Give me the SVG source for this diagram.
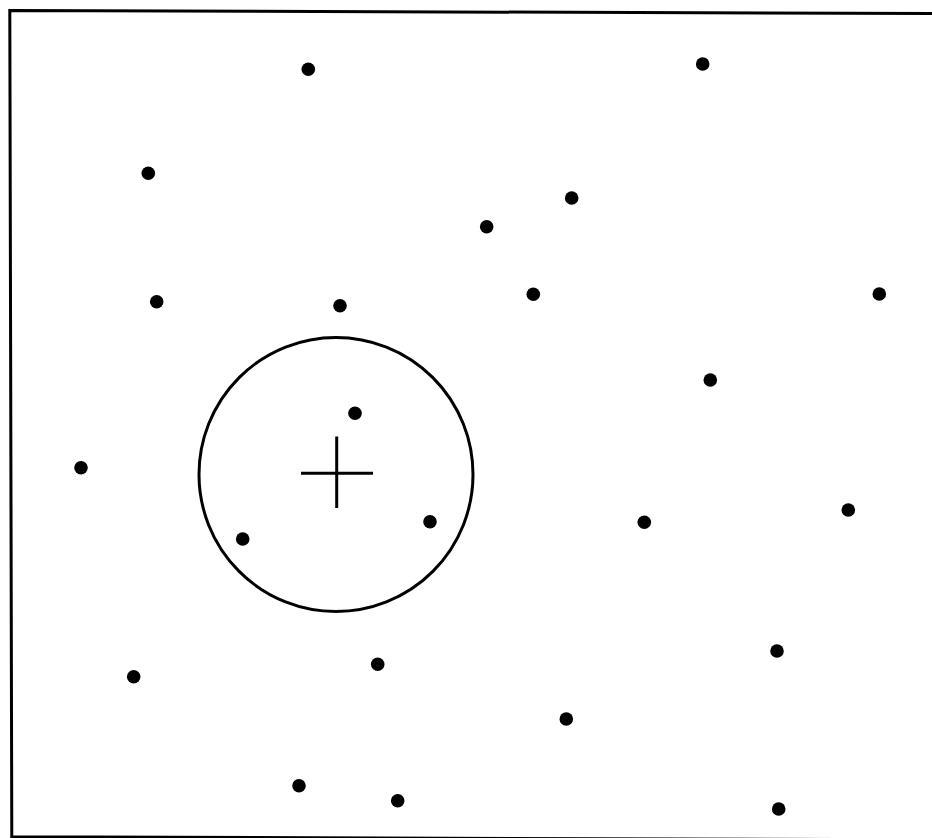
<svg xmlns="http://www.w3.org/2000/svg" width="932" height="838" viewBox="0 0 932 838">
<style>
.frame{fill:none;stroke:#000;stroke-width:3}
.dot{fill:#000}
.ring{fill:none;stroke:#000;stroke-width:3}
.cross{stroke:#000;stroke-width:3;stroke-linecap:butt}
</style>
<rect width="932" height="838" fill="#fff"/>
<path class="frame" d="M932,13.5 L9.8,10.5 L11.8,836.8 L932,839.8"/>
<g id="circle"><circle class="ring" cx="336" cy="474.5" r="137"/></g>
<g id="cross">
<line class="cross" x1="301" y1="473.3" x2="373" y2="473.3"/>
<line class="cross" x1="336.7" y1="436.5" x2="336.7" y2="508"/>
</g>
<g id="dots">
<circle class="dot" cx="308.3" cy="69.3" r="6.8"/>
<circle class="dot" cx="702.7" cy="64" r="6.8"/>
<circle class="dot" cx="148.3" cy="173.3" r="6.8"/>
<circle class="dot" cx="571.7" cy="198" r="6.8"/>
<circle class="dot" cx="486.7" cy="226.7" r="6.8"/>
<circle class="dot" cx="156.7" cy="301.7" r="6.8"/>
<circle class="dot" cx="340" cy="305.7" r="6.8"/>
<circle class="dot" cx="533.3" cy="294.3" r="6.8"/>
<circle class="dot" cx="879.3" cy="294" r="6.8"/>
<circle class="dot" cx="710.3" cy="380" r="6.8"/>
<circle class="dot" cx="355" cy="413.3" r="6.8"/>
<circle class="dot" cx="81" cy="467.7" r="6.8"/>
<circle class="dot" cx="430" cy="521.7" r="6.8"/>
<circle class="dot" cx="242.7" cy="539" r="6.8"/>
<circle class="dot" cx="644.3" cy="522.3" r="6.8"/>
<circle class="dot" cx="848.3" cy="510" r="6.8"/>
<circle class="dot" cx="133.7" cy="676.7" r="6.8"/>
<circle class="dot" cx="377.7" cy="664.3" r="6.8"/>
<circle class="dot" cx="777" cy="651" r="6.8"/>
<circle class="dot" cx="566.3" cy="719" r="6.8"/>
<circle class="dot" cx="299" cy="785.7" r="6.8"/>
<circle class="dot" cx="397.7" cy="800.7" r="6.8"/>
<circle class="dot" cx="778.7" cy="809" r="6.8"/>
</g>
</svg>
